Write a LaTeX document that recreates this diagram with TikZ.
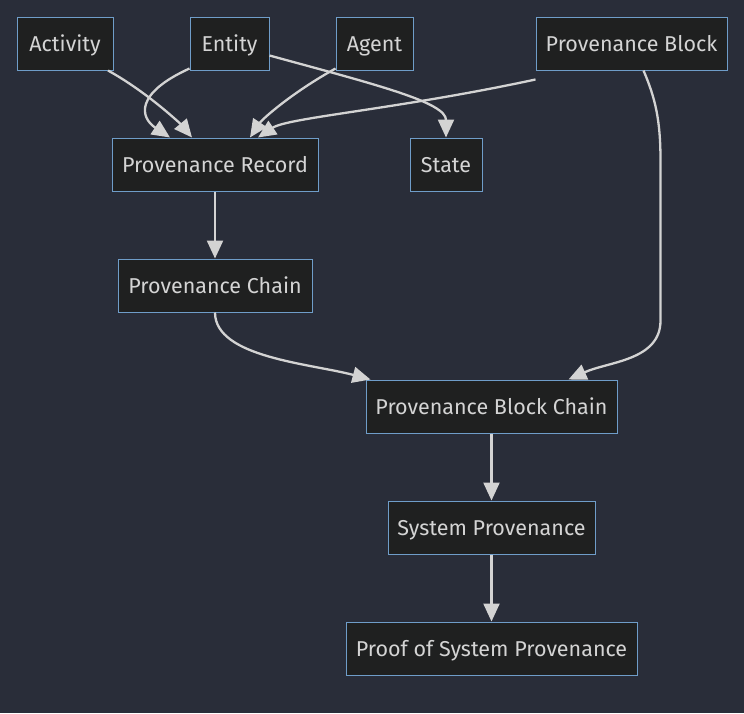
\documentclass[tikz,border=0pt]{standalone}
\usepackage{fontspec}
\setmainfont{Fira Sans}
\usetikzlibrary{arrows.meta}
\definecolor{bgc}{HTML}{292D39}
\definecolor{nfill}{HTML}{1F2020}
\definecolor{nborder}{HTML}{6F9DC9}
\definecolor{ntext}{HTML}{D4D4D4}
\definecolor{lcol}{HTML}{D3D3D3}
\begin{document}
\begin{tikzpicture}[x=1pt,y=-1pt,
  box/.style={draw=nborder,fill=nfill,line width=1pt,text=ntext,inner sep=0pt,
    minimum height=53pt,text height=16pt,text depth=1pt,font=\fontsize{21.5}{25}\selectfont},
  edge/.style={draw=lcol,line width=2.3pt,-{Triangle[length=18pt,width=16pt]}}]
\fill[bgc] (0,0) rectangle (744,713);
\useasboundingbox (0,0) rectangle (744,713);
\node[box,minimum width=96pt] (act) at (65,43.5) {Activity};
\node[box,minimum width=79pt] (ent) at (229.5,43.5) {Entity};
\node[box,minimum width=77pt] (agt) at (374.5,43.5) {Agent};
\node[box,minimum width=191pt] (pb) at (631.5,43.5) {Provenance Block};
\node[box,minimum width=206pt] (rec) at (215,164.5) {Provenance Record};
\node[box,minimum width=72pt] (st) at (446,164.5) {State};
\node[box,minimum width=194pt] (ch) at (215,285.5) {Provenance Chain};
\node[box,minimum width=251pt] (bc) at (491.5,406.5) {Provenance Block Chain};
\node[box,minimum width=207pt] (sp) at (491.5,527.5) {System Provenance};
\node[box,minimum width=291pt] (proof) at (491.5,648.5) {Proof of System Provenance};
% edges
\draw[edge] ([xshift=43pt]act.south) .. controls +(40,22) and +(-10,-12) .. ([xshift=-23pt]rec.north);
\draw[edge] ([yshift=2pt]ent.south west) .. controls +(-55,25) and +(-30,-20) .. ([xshift=-45pt]rec.north);
\draw[edge] ([yshift=2pt]agt.south west) .. controls +(-45,25) and +(12,-18) .. ([xshift=35pt]rec.north);
\draw[edge] ([yshift=-9pt]pb.south west) .. controls +(-140,30) and +(30,-20) .. ([xshift=43pt]rec.north);
\draw[edge] ([yshift=-12pt]ent.east) .. controls +(110,30) and +(0,-35) .. (st.north);
\draw[edge] (rec.south) -- (ch.north);
\draw[edge] (ch.south) .. controls +(0,45) and +(-60,-16) .. ([xshift=-121pt]bc.north);
\draw[edge] ([xshift=12pt]pb.south) .. controls +(12,28) and +(0,-40) .. ++(17,90) -- ++(0,160) .. controls +(0,40) and +(40,-18) .. ([xshift=77pt]bc.north);
\draw[edge] (bc.south) -- (sp.north);
\draw[edge] (sp.south) -- (proof.north);
\end{tikzpicture}
\end{document}
